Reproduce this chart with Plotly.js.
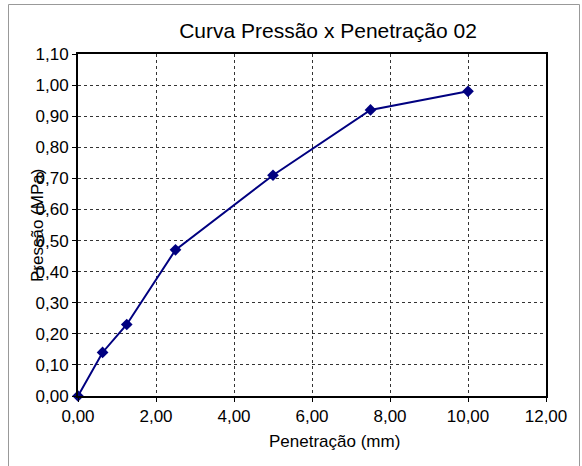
<!DOCTYPE html>
<html>
<head>
<meta charset="utf-8">
<script src="https://cdn.plot.ly/plotly-3.0.1.min.js"></script>
<style>html,body{margin:0;padding:0;background:#fff;} #chart{width:582px;height:466px;}</style>
</head>
<body>
<div id="chart"></div>
<script>
const penetracao = [0, 0.63, 1.25, 2.5, 5.0, 7.5, 10.0];
const pressao = [0, 0.14, 0.23, 0.47, 0.71, 0.92, 0.98];
const chartTitle = "Curva Pressão x Penetração 02";
const xTitle = "Penetração (mm)";
const yTitle = "Pressão (MPa)";

const W = 582, H = 466, L = 78, R = 36, T = 54, B = 70;
const pw = W - L - R, ph = H - T - B;
const px = v => (v - L) / pw;
const py = v => (H - B - v) / ph;
const FONT = 'Arial, "Liberation Sans", sans-serif';

const fmt = v => v.toFixed(2).replace('.', ',');
const xticks = [0, 2, 4, 6, 8, 10, 12];
const yticks = [0, 0.1, 0.2, 0.3, 0.4, 0.5, 0.6, 0.7, 0.8, 0.9, 1.0, 1.1];

const trace = {
  x: penetracao, y: pressao, type: 'scatter', mode: 'lines+markers',
  line: {color: '#000080', width: 2},
  marker: {symbol: 'diamond', size: 9, color: '#000080'},
  cliponaxis: false, hoverinfo: 'skip'
};

const axisCommon = {
  showline: true, linecolor: '#000', linewidth: 2, mirror: true,
  showgrid: true, gridcolor: '#333', griddash: 'dot', gridwidth: 1,
  ticks: 'outside', ticklen: 4, tickcolor: '#000', tickwidth: 1,
  zeroline: false, tickfont: {family: FONT, size: 17, color: '#000'}
};

const layout = {
  width: W, height: H,
  margin: {l: L, r: R, t: T, b: B, pad: 0},
  paper_bgcolor: '#fff', plot_bgcolor: '#fff',
  showlegend: false,
  title: {text: chartTitle, x: 328 / W, xanchor: 'center', y: 1 - 31 / H, yanchor: 'middle',
          font: {family: FONT, size: 21, color: '#000'}},
  xaxis: Object.assign({}, axisCommon, {
    range: [0, 12], tickvals: xticks, ticktext: xticks.map(fmt)
  }),
  yaxis: Object.assign({}, axisCommon, {
    range: [0, 1.1], tickvals: yticks, ticktext: yticks.map(fmt)
  }),
  annotations: [{
    text: yTitle, xref: 'paper', yref: 'paper', x: px(37), y: py(226),
    xanchor: 'center', yanchor: 'middle', textangle: -90, showarrow: false,
    font: {family: FONT, size: 17, color: '#000'}
  }, {
    text: xTitle, xref: 'paper', yref: 'paper', x: px(334), y: py(441),
    xanchor: 'center', yanchor: 'middle', showarrow: false,
    font: {family: FONT, size: 17, color: '#000'}
  }],
  shapes: [{
    type: 'rect', xref: 'paper', yref: 'paper', layer: 'below',
    x0: px(8.5), x1: px(579.5), y0: py(H + 5), y1: py(4.5),
    line: {color: '#999', width: 1}, fillcolor: 'rgba(0,0,0,0)'
  }]
};

Plotly.newPlot('chart', [trace], layout, {staticPlot: true, displayModeBar: false});
</script>
</body>
</html>
